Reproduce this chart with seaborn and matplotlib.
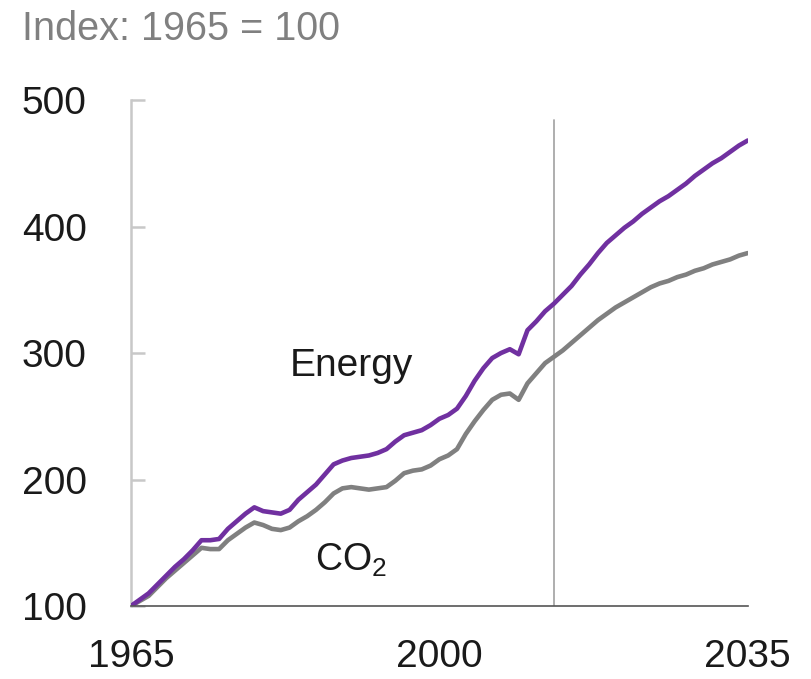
import numpy as np
import pandas as pd
import matplotlib
matplotlib.use("Agg")
import matplotlib.pyplot as plt
import seaborn as sns

years = list(range(1965, 2036))
energy = [100, 105, 110, 117, 124, 131, 137, 144, 152, 152,
          153, 161, 167, 173, 178, 175, 174, 173, 176, 184,
          190, 196, 204, 212, 215, 217, 218, 219, 221, 224,
          230, 235, 237, 239, 243, 248, 251, 256, 266, 278,
          288, 296, 300, 303, 299, 318, 325, 333, 339, 346,
          353, 362, 370, 379, 387, 393, 399, 404, 410, 415,
          420, 424, 429, 434, 440, 445, 450, 454, 459, 464,
          468]
co2 = [100, 104, 108, 115, 122, 128, 134, 140, 146, 145,
       145, 152, 157, 162, 166, 164, 161, 160, 162, 167,
       171, 176, 182, 189, 193, 194, 193, 192, 193, 194,
       199, 205, 207, 208, 211, 216, 219, 224, 236, 246,
       255, 263, 267, 268, 263, 276, 284, 292, 297, 302,
       308, 314, 320, 326, 331, 336, 340, 344, 348, 352,
       355, 357, 360, 362, 365, 367, 370, 372, 374, 377,
       379]
series_names = ["Energy", "CO2"]
colors = {"Energy": "#7030a0", "CO2": "#808080"}
projection_start = 2013
y_ticks = [100, 200, 300, 400, 500]
x_ticks = [1965, 2000, 2035]

df = pd.DataFrame({
    "year": years * 2,
    "value": energy + co2,
    "series": ["Energy"] * len(years) + ["CO2"] * len(years),
})

sns.set_style("white")
plt.rcParams["font.family"] = ["Liberation Sans", "DejaVu Sans"]
plt.rcParams["mathtext.fontset"] = "custom"
plt.rcParams["mathtext.rm"] = "Liberation Sans"
plt.rcParams["mathtext.it"] = "Liberation Sans:italic"

fig = plt.figure(figsize=(8.11, 6.79), dpi=100)
ax = fig.add_axes([0.1615, 0.1075, 0.7605, 0.7452])

ax.axvline(projection_start, ymin=0, ymax=0.96, color="#a8a8a8", lw=1.3, zorder=1)

sns.lineplot(data=df, x="year", y="value", hue="series", hue_order=["CO2", "Energy"],
             palette=colors, linewidth=3.3, legend=False, ax=ax, zorder=3)

ax.set_xlim(1965, 2035)
ax.set_ylim(100, 500)
ax.set_xticks(x_ticks)
ax.set_yticks(y_ticks)
ax.set_xlabel("")
ax.set_ylabel("")

for s in ["top", "right"]:
    ax.spines[s].set_visible(False)
ax.spines["left"].set_color("#c8c8c8")
ax.spines["left"].set_linewidth(1.8)
ax.spines["bottom"].set_color("#555555")
ax.spines["bottom"].set_linewidth(1.2)
ax.spines["bottom"].set_zorder(4)

ax.tick_params(axis="y", direction="in", length=10, width=1.8, color="#c8c8c8",
               labelsize=28, pad=32, left=True)
ax.tick_params(axis="x", length=0, labelsize=28, pad=24)
for lbl in ax.get_yticklabels() + ax.get_xticklabels():
    lbl.set_color("#1a1a1a")

ax.text(1990, 290, "Energy", fontsize=28, color="#1a1a1a", ha="center", va="center")
ax.text(1990, 136, "CO$_\\mathrm{2}$", fontsize=27, color="#1a1a1a", ha="center", va="center")

fig.text(22 / 811, 1 - 40 / 679, "Index: 1965 = 100", fontsize=28.5, color="#808080",
         ha="left", va="baseline")

fig.savefig("out.png", dpi=100)
